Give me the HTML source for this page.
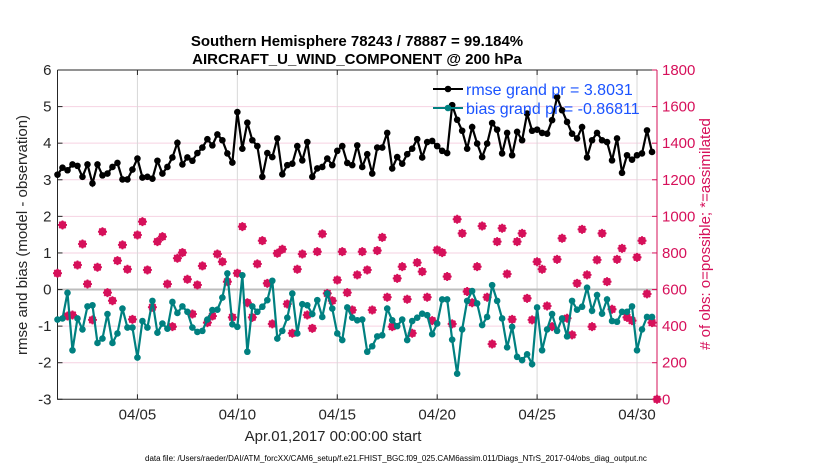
<!DOCTYPE html>
<html><head><meta charset="utf-8"><style>
body{margin:0;background:#fff;}
svg{display:block;font-family:"Liberation Sans",sans-serif;}
</style></head><body>
<svg id="chart" width="830" height="470">
</svg>
<script>
const rmse=[3.14,3.33,3.26,3.42,3.38,3.08,3.42,2.90,3.42,3.12,3.17,3.35,3.46,3.01,3.01,3.28,3.58,3.06,3.08,3.03,3.52,3.17,3.35,3.61,4.01,3.42,3.61,3.52,3.73,3.88,4.11,
3.94,4.24,4.08,3.72,3.47,4.85,3.85,4.56,4.08,3.92,3.08,3.73,3.62,4.13,3.15,3.40,3.44,3.92,3.53,4.03,3.08,3.31,3.35,3.58,3.40,3.79,3.92,3.46,3.40,3.94,
3.35,3.70,3.17,3.88,3.88,4.28,3.31,3.62,3.44,3.70,3.85,4.11,3.61,4.03,4.06,3.92,3.79,3.73,5.04,4.64,4.34,3.85,4.44,3.99,3.62,3.99,4.55,4.37,3.72,4.28,
3.67,4.31,4.08,4.81,4.34,4.37,4.28,4.26,4.63,5.26,4.90,4.58,4.26,4.13,4.44,3.61,4.08,4.28,4.08,4.03,3.53,4.13,3.19,3.67,3.55,3.67,3.72,4.35,3.76];
const bias=[-0.82,-0.79,-0.09,-1.66,-0.79,-1.09,-0.46,-0.43,-1.46,-1.34,-0.67,-1.46,-1.20,-0.52,-1.04,-1.04,-1.86,-0.86,-1.04,-0.31,-1.18,-0.93,-1.07,-0.34,-0.64,-0.46,-0.61,-1.04,-1.16,-1.13,-0.82,
-0.56,-0.55,-0.22,0.44,-0.95,-1.02,0.39,-1.70,-0.46,-0.61,-0.47,-0.29,0.24,-1.34,-1.13,-0.77,-0.11,-1.20,-0.40,-0.43,-0.67,-0.29,-0.75,-0.11,-0.52,-1.20,-1.38,-0.49,-0.77,-0.84,
-0.82,-1.70,-1.55,-1.28,-1.25,-0.52,-0.84,-1.00,-0.82,-1.38,-0.86,-0.77,-0.66,-0.70,-1.22,-0.93,-0.27,-0.27,-1.37,-2.30,-1.09,-0.31,-0.04,-0.38,-0.97,-0.75,0.12,-0.31,-0.79,-1.58,
-1.02,-1.84,-1.93,-1.77,-2.04,-0.49,-1.66,-1.09,-0.67,-1.13,-0.79,-1.28,-0.31,-0.55,-0.47,0.05,-0.58,-0.15,-0.66,-0.27,-0.86,-0.88,-0.61,-0.61,-0.46,-1.66,-1.09,-0.75,-0.75];
const nobs=[689,953,455,461,734,849,630,434,722,916,583,539,758,844,711,437,898,971,707,503,862,889,630,397,771,802,656,466,625,729,419,
455,794,752,643,448,689,944,528,448,740,867,634,412,798,820,521,361,711,794,461,388,807,904,579,539,652,807,583,488,680,
807,707,488,813,885,558,397,661,725,547,361,747,698,558,430,816,802,671,412,984,907,589,528,725,947,558,302,862,935,685,
437,862,907,552,434,752,711,510,397,765,880,443,352,634,929,680,397,762,907,643,492,765,825,448,430,776,867,576,419,0];
const xTicks=[4,9,14,19,24,29];
const xTickLabels=["04/05","04/10","04/15","04/20","04/25","04/30"];
const yTicks=[-3,-2,-1,0,1,2,3,4,5,6];
const rTicks=[0,200,400,600,800,1000,1200,1400,1600,1800];

const NS="http://www.w3.org/2000/svg";
const svg=document.getElementById('chart');
const L=57.5,R=657,T=70,B=399.3;
const X=d=>L+(d/30)*(R-L);
const Y=v=>B-(v+3)/9*(B-T);
const YR=v=>B-v/1800*(B-T);
function mk(tag,attrs,parent){const e=document.createElementNS(NS,tag);for(const k in attrs)e.setAttribute(k,attrs[k]);(parent||svg).appendChild(e);return e;}

yTicks.forEach(v=>{if(v>-3&&v<6){const g=mk('line',{x1:L,x2:R,y1:Y(v),y2:Y(v),stroke:'#f6d2e2','stroke-width':1});

}});
xTicks.forEach(d=>{const g=mk('line',{x1:X(d),x2:X(d),y1:T,y2:B,stroke:'#d8d8d8','stroke-width':1});

});
const zl=mk('line',{x1:L,x2:R,y1:Y(0),y2:Y(0),stroke:'#bdbdbd','stroke-width':2});



const box=mk('path',{d:`M${L},${T}H${R}M${L},${T}V${B}H${R}`,fill:'none',stroke:'#262626','stroke-width':1});


const ra=mk('line',{x1:R,x2:R,y1:T,y2:B,stroke:'#d6105a','stroke-width':1});



yTicks.forEach(v=>{mk('line',{x1:L,x2:L+5,y1:Y(v),y2:Y(v),stroke:'#262626'});
const t=mk('text',{x:L-6,y:Y(v)+5,'text-anchor':'end','font-size':15,fill:'#262626'});t.textContent=v;

});
rTicks.forEach(v=>{mk('line',{x1:R-5,x2:R,y1:YR(v),y2:YR(v),stroke:'#d6105a'});
const t=mk('text',{x:R+5,y:YR(v)+5,'font-size':15,fill:'#d6105a'});t.textContent=v;

});
xTicks.forEach((d,i)=>{mk('line',{x1:X(d),x2:X(d),y1:B,y2:B-5,stroke:'#262626'});mk('line',{x1:X(d),x2:X(d),y1:T,y2:T+5,stroke:'#262626'});
const t=mk('text',{x:X(d),y:B+20,'text-anchor':'middle','font-size':15,fill:'#262626'});t.textContent=xTickLabels[i];

});

nobs.forEach((v,i)=>{const cx=X(i*0.25),cy=YR(v);const g=mk('g',{stroke:'#d6105a','stroke-width':1.8,fill:'none'});


mk('circle',{cx:cx,cy:cy,r:3},g);
mk('path',{d:`M${cx-4.5},${cy}H${cx+4.5}M${cx},${cy-4.5}V${cy+4.5}M${cx-3.2},${cy-3.2}L${cx+3.2},${cy+3.2}M${cx-3.2},${cy+3.2}L${cx+3.2},${cy-3.2}`},g);});

function series(arr,color,name){
const pts=arr.map((v,i)=>`${X(i*0.25)},${Y(v)}`).join(' ');
const pl=mk('polyline',{points:pts,fill:'none',stroke:color,'stroke-width':2.2});


arr.forEach((v,i)=>{const c=mk('circle',{cx:X(i*0.25),cy:Y(v),r:3.3,fill:color});

});}
series(rmse,'#000','rmse');
series(bias,'#008080','bias');
</script>
<svg width="830" height="470" style="position:absolute;left:0;top:0;font-family:'Liberation Sans',sans-serif">
<text x="357" y="46" text-anchor="middle" font-size="15" font-weight="bold" fill="#000">Southern Hemisphere 78243 / 78887 = 99.184%</text>
<text x="357" y="64" text-anchor="middle" font-size="15" font-weight="bold" fill="#000">AIRCRAFT_U_WIND_COMPONENT @ 200 hPa</text>
<g>
<line x1="433" y1="89" x2="463" y2="89" stroke="#000" stroke-width="2"/><circle cx="448" cy="89" r="3.3" fill="#000"/>
<text x="466" y="95" font-size="16" fill="#1a53ff">rmse grand pr = 3.8031</text>
<line x1="433" y1="108" x2="463" y2="108" stroke="#008080" stroke-width="2"/><circle cx="448" cy="108" r="3.3" fill="#008080"/>
<text x="466" y="114" font-size="16" fill="#1a53ff">bias grand pr = -0.86811</text>
</g>
<text transform="translate(27,235) rotate(-90)" text-anchor="middle" font-size="15" fill="#262626">rmse and bias (model - observation)</text>
<text transform="translate(710,234) rotate(-90)" text-anchor="middle" font-size="15" fill="#d6105a"># of obs: o=possible; *=assimilated</text>
<text x="333" y="441" text-anchor="middle" font-size="15" fill="#262626">Apr.01,2017 00:00:00 start</text>
<text x="145" y="461" font-size="8" fill="#000">data file: /Users/raeder/DAI/ATM_forcXX/CAM6_setup/f.e21.FHIST_BGC.f09_025.CAM6assim.011/Diags_NTrS_2017-04/obs_diag_output.nc</text>
</svg>
</body></html>
